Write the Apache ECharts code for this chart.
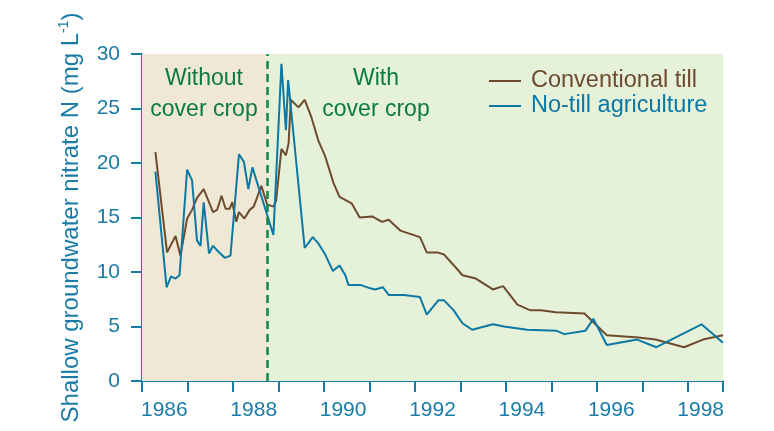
<!DOCTYPE html>
<html lang="en">
<head>
    <meta charset="UTF-8">
    <title>Shallow groundwater nitrate</title>
    <script src="https://cdn.jsdelivr.net/npm/echarts@6/dist/echarts.min.js"></script>
    <style>
        html, body { margin: 0; padding: 0; background: #fff; }
        #main { width: 774px; height: 431px; }
    </style>
</head>
<body>
<div id="main"></div>
<script>
// 常规耕作 (conventional till)
var tillYears = [1986.30, 1986.56, 1986.75, 1986.86, 1987.01, 1987.12, 1987.23, 1987.38, 1987.59, 1987.68,
    1987.78, 1987.87, 1987.96, 1988.02, 1988.11, 1988.17, 1988.29, 1988.41, 1988.50, 1988.67,
    1988.80, 1988.94, 1989.00, 1989.12, 1989.22, 1989.28, 1989.33, 1989.50, 1989.64, 1989.79,
    1989.95, 1990.10, 1990.29, 1990.42, 1990.69, 1990.87, 1991.15, 1991.37, 1991.52, 1991.78,
    1992.22, 1992.37, 1992.61, 1992.76, 1992.98, 1993.17, 1993.47, 1993.85, 1994.08, 1994.40,
    1994.68, 1994.92, 1995.26, 1995.90, 1996.40, 1997.11, 1997.49, 1998.13, 1998.55, 1999.00];
var tillValues = [21.0, 11.8, 13.3, 11.5, 14.9, 15.7, 16.8, 17.6, 15.5, 15.7,
    17.0, 15.8, 15.8, 16.4, 14.6, 15.5, 14.9, 15.7, 16.0, 17.9,
    16.2, 16.0, 16.5, 21.3, 20.7, 21.8, 25.8, 25.1, 25.8, 24.2,
    22.0, 20.6, 18.1, 16.9, 16.3, 15.0, 15.1, 14.6, 14.8, 13.8,
    13.2, 11.8, 11.8, 11.6, 10.6, 9.7, 9.4, 8.4, 8.7, 7.0,
    6.5, 6.5, 6.3, 6.2, 4.2, 4.0, 3.8, 3.1, 3.8, 4.2];

// 免耕 (no-till)
var noTillYears = [1986.30, 1986.55, 1986.65, 1986.75, 1986.84, 1987.01, 1987.12, 1987.23, 1987.31, 1987.38,
    1987.50, 1987.59, 1987.70, 1987.85, 1987.98, 1988.17, 1988.28, 1988.38, 1988.47, 1988.94,
    1989.12, 1989.22, 1989.27, 1989.64, 1989.82, 1989.95, 1990.10, 1990.27, 1990.42, 1990.55,
    1990.62, 1990.90, 1991.11, 1991.22, 1991.39, 1991.52, 1991.86, 1992.22, 1992.37, 1992.63,
    1992.76, 1992.97, 1993.17, 1993.39, 1993.85, 1994.10, 1994.62, 1995.28, 1995.45, 1995.92,
    1996.10, 1996.40, 1997.08, 1997.51, 1998.52, 1999.00];
var noTillValues = [19.2, 8.6, 9.6, 9.4, 9.7, 19.4, 18.4, 12.9, 12.4, 16.4,
    11.7, 12.4, 11.9, 11.3, 11.5, 20.8, 20.1, 17.6, 19.6, 13.4,
    29.1, 23.0, 27.6, 12.2, 13.2, 12.6, 11.6, 10.1, 10.6, 9.7,
    8.8, 8.8, 8.5, 8.4, 8.6, 7.9, 7.9, 7.7, 6.1, 7.4,
    7.4, 6.5, 5.3, 4.7, 5.2, 5.0, 4.7, 4.6, 4.3, 4.6,
    5.7, 3.3, 3.8, 3.1, 5.2, 3.5];

var coverCropYear = 1988.8;   // 开始种覆盖作物
var yTicks = [0, 5, 10, 15, 20, 25, 30];
var labelYears = [1986, 1988, 1990, 1992, 1994, 1996, 1998];

function toPairs(xs, ys) {
    return xs.map(function (x, i) { return [x, ys[i]]; });
}

var FONT = '"Liberation Sans", Arial, sans-serif';
var AXIS_BLUE = '#1a7ba6';
var BROWN = '#6e4b2f';
var BLUE = '#0d78a4';
var GREEN_TXT = '#0b7b44';

var myChart = echarts.init(document.getElementById('main'), null, {renderer: 'canvas'});

var option = {
    backgroundColor: '#ffffff',
    animation: false,
    textStyle: { fontFamily: FONT },
    grid: { left: 142, right: 51, top: 54, bottom: 50 },
    legend: {
        orient: 'vertical',
        left: 484,
        top: 64,
        itemGap: 1,
        itemWidth: 32,
        itemHeight: 2,
        icon: 'rect',
        selectedMode: false,
        data: [
            { name: 'Conventional till', textStyle: { color: BROWN } },
            { name: 'No-till agriculture', textStyle: { color: BLUE } }
        ],
        textStyle: { fontSize: 23.5, fontFamily: FONT, padding: [0, 0, 0, 5], lineHeight: 22 }
    },
    xAxis: [
        {
            // 数据轴, 标签放在年中间
            type: 'value',
            min: 1986,
            max: 1999,
            interval: 0.5,
            axisLine: { show: false },
            axisTick: { show: false },
            splitLine: { show: false },
            axisLabel: {
                color: AXIS_BLUE,
                fontSize: 21,
                fontFamily: FONT,
                margin: 19,
                showMinLabel: true,
                showMaxLabel: true,
                formatter: function (v) {
                    var y = Math.floor(v);
                    if (v - y === 0.5 && labelYears.indexOf(y) >= 0) return String(y);
                    return '';
                }
            }
        },
        {
            // 只画刻度
            type: 'value',
            position: 'bottom',
            min: 0,
            max: 12.77,
            interval: 1,
            axisLine: { show: true, lineStyle: { color: AXIS_BLUE, width: 2 } },
            axisTick: { show: true, length: 11, lineStyle: { color: AXIS_BLUE, width: 2 } },
            axisLabel: { show: false },
            splitLine: { show: false }
        }
    ],
    yAxis: {
        type: 'value',
        min: yTicks[0],
        max: yTicks[yTicks.length - 1],
        interval: 5,
        name: '{a|Shallow groundwater nitrate N (mg L}{s|-1}{a|)}',
        nameLocation: 'middle',
        nameRotate: 90,
        nameGap: 57,
        nameTextStyle: {
            rich: {
                a: { fontSize: 24, color: AXIS_BLUE, fontFamily: FONT, lineHeight: 28 },
                s: { fontSize: 14, color: AXIS_BLUE, fontFamily: FONT, lineHeight: 15, verticalAlign: 'top' }
            }
        },
        axisLine: { show: true, lineStyle: { color: AXIS_BLUE, width: 2 } },
        axisTick: { show: true, length: 11, lineStyle: { color: AXIS_BLUE, width: 2 } },
        splitLine: { show: false },
        axisLabel: { color: AXIS_BLUE, fontSize: 21, fontFamily: FONT, margin: 22 }
    },
    graphic: [
        {
            type: 'text',
            x: 204, y: 63,
            style: { text: 'Without\ncover crop', fill: GREEN_TXT, font: '23px ' + FONT, align: 'center', verticalAlign: 'top', lineHeight: 31 },
            z: 10
        },
        {
            type: 'text',
            x: 376, y: 63,
            style: { text: 'With\ncover crop', fill: GREEN_TXT, font: '23px ' + FONT, align: 'center', verticalAlign: 'top', lineHeight: 31 },
            z: 10
        }
    ],
    series: [
        {
            name: 'Conventional till',
            type: 'line',
            xAxisIndex: 0,
            data: toPairs(tillYears, tillValues),
            showSymbol: false,
            symbol: 'none',
            color: BROWN,
            lineStyle: { color: BROWN, width: 2 },
            markArea: {
                silent: true,
                data: [
                    [{ xAxis: 1986, itemStyle: { color: '#efe8d4' } }, { xAxis: coverCropYear }],
                    [{ xAxis: coverCropYear, itemStyle: { color: '#e5f1d9' } }, { xAxis: 1999 }]
                ]
            },
            markLine: {
                silent: true,
                symbol: 'none',
                label: { show: false },
                lineStyle: { color: '#0f8549', width: 2.5, type: [8, 5] },
                data: [{ xAxis: coverCropYear }]
            }
        },
        {
            name: 'No-till agriculture',
            type: 'line',
            xAxisIndex: 0,
            data: toPairs(noTillYears, noTillValues),
            showSymbol: false,
            symbol: 'none',
            color: BLUE,
            lineStyle: { color: BLUE, width: 2 }
        }
    ]
};
myChart.setOption(option);
</script>
</body>
</html>
